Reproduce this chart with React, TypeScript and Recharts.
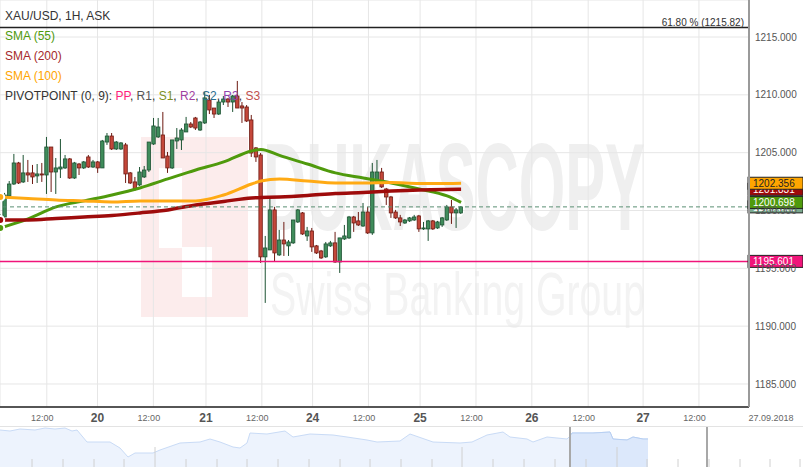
import React from 'react';
import {
  Area,
  AreaChart,
  Bar,
  CartesianGrid,
  ComposedChart,
  Line,
  ReferenceLine,
  XAxis,
  YAxis,
} from 'recharts';

// XAU/USD hourly candles, index 0 = first visible bar
const opens = [
  1198.66, 1199.44, 1201.26, 1202.29, 1204.11, 1202.47, 1203.25, 1203.25, 1202.99, 1203.16,
  1203.07, 1205.49, 1203.33, 1203.59, 1203.68, 1204.46, 1202.81, 1204.02, 1203.68, 1204.63,
  1203.76, 1204.2, 1203.68, 1205.92, 1206.44, 1205.32, 1205.32, 1205.67, 1203.25, 1202.47,
  1202.21, 1202.9, 1203.5, 1205.75, 1206.36, 1206.53, 1204.71, 1203.68, 1206.01, 1206.1,
  1206.79, 1207.48, 1208.0, 1206.96, 1207.57, 1209.55, 1208.86, 1208.34, 1209.38, 1209.64,
  1209.38, 1209.9, 1209.04, 1208.95, 1207.83, 1205.41, 1204.8, 1195.99, 1196.59, 1200.05,
  1196.16, 1197.45, 1196.94, 1197.2, 1199.01, 1199.79, 1197.8, 1198.23, 1196.94, 1196.5,
  1195.99, 1196.94, 1197.2, 1195.55, 1197.54, 1197.63, 1199.44, 1199.1, 1198.66, 1199.87,
  1198.06, 1202.47, 1203.33, 1201.86, 1201.17, 1199.87, 1199.36, 1198.92, 1199.1, 1199.18,
  1199.53, 1198.41, 1198.41, 1199.1, 1198.49, 1198.75, 1199.18, 1200.31, 1199.79, 1199.79,
];
const highs = [
  1199.7, 1201.52, 1202.55, 1204.89, 1204.2, 1204.8, 1204.37, 1203.94, 1204.02, 1204.11,
  1206.36, 1205.49, 1204.54, 1206.18, 1204.8, 1204.54, 1204.2, 1204.11, 1204.28, 1204.8,
  1204.37, 1204.28, 1206.1, 1206.7, 1206.7, 1206.01, 1205.92, 1205.84, 1203.33, 1202.9,
  1203.76, 1203.85, 1205.92, 1208.0, 1208.0, 1208.52, 1205.06, 1206.1, 1207.13, 1207.13,
  1208.09, 1207.65, 1208.09, 1207.74, 1210.25, 1209.99, 1208.86, 1209.55, 1209.9, 1209.73,
  1209.99, 1211.2, 1209.38, 1209.12, 1208.26, 1205.49, 1204.97, 1197.8, 1201.17, 1200.31,
  1198.32, 1199.01, 1197.45, 1199.18, 1200.13, 1199.87, 1198.58, 1198.49, 1197.02, 1196.59,
  1197.28, 1197.37, 1198.15, 1197.63, 1198.75, 1199.53, 1199.53, 1199.87, 1200.65, 1200.31,
  1204.11, 1204.37, 1203.68, 1201.95, 1201.26, 1200.05, 1199.62, 1199.27, 1199.44, 1199.62,
  1199.62, 1199.01, 1199.18, 1199.18, 1199.1, 1199.44, 1200.48, 1200.91, 1200.22, 1200.39,
];
const lows = [
  1198.49, 1199.36, 1201.17, 1202.21, 1202.29, 1202.38, 1202.47, 1202.29, 1202.38, 1202.47,
  1201.43, 1201.6, 1201.43, 1202.81, 1203.59, 1202.73, 1202.73, 1203.07, 1203.59, 1203.68,
  1203.68, 1203.25, 1203.68, 1205.67, 1205.23, 1205.23, 1205.23, 1202.38, 1202.29, 1201.69,
  1202.12, 1202.81, 1203.33, 1205.67, 1206.27, 1204.54, 1203.25, 1203.59, 1205.32, 1205.23,
  1206.79, 1207.13, 1206.96, 1206.88, 1207.48, 1208.34, 1208.0, 1208.26, 1209.12, 1208.95,
  1208.52, 1208.86, 1207.57, 1207.65, 1204.63, 1204.2, 1195.47, 1192.01, 1196.59, 1195.55,
  1196.07, 1196.07, 1196.07, 1197.11, 1198.92, 1197.89, 1197.37, 1196.42, 1196.24, 1195.81,
  1195.9, 1196.85, 1195.47, 1194.6, 1197.45, 1197.54, 1198.15, 1198.66, 1198.58, 1197.97,
  1197.89, 1202.38, 1201.95, 1200.48, 1199.36, 1199.27, 1198.66, 1198.84, 1199.01, 1199.1,
  1198.15, 1198.32, 1197.37, 1198.32, 1198.41, 1198.58, 1199.1, 1198.84, 1198.49, 1199.7,
];
const closes = [
  1199.44, 1201.34, 1202.29, 1204.11, 1202.38, 1203.25, 1203.07, 1202.9, 1203.16, 1203.07,
  1205.49, 1203.33, 1203.68, 1203.76, 1204.46, 1202.81, 1204.11, 1203.68, 1204.2, 1203.76,
  1204.2, 1203.68, 1206.01, 1206.44, 1205.32, 1205.92, 1205.84, 1203.16, 1202.38, 1201.86,
  1203.33, 1203.5, 1205.92, 1207.31, 1207.22, 1204.54, 1203.68, 1206.1, 1206.27, 1206.96,
  1207.48, 1207.22, 1207.13, 1207.65, 1209.73, 1208.69, 1208.34, 1209.38, 1209.64, 1209.38,
  1209.9, 1208.86, 1208.86, 1207.74, 1204.97, 1204.63, 1195.99, 1196.76, 1200.05, 1196.33,
  1197.45, 1197.11, 1197.28, 1199.18, 1200.05, 1197.97, 1198.23, 1196.85, 1196.33, 1195.9,
  1197.11, 1197.2, 1195.55, 1197.63, 1197.8, 1199.44, 1198.92, 1198.75, 1199.87, 1198.06,
  1203.33, 1203.33, 1202.04, 1201.17, 1199.79, 1199.36, 1199.01, 1199.18, 1199.36, 1199.44,
  1198.41, 1198.49, 1199.1, 1198.41, 1199.01, 1199.36, 1200.31, 1199.79, 1200.05, 1200.31,
];

// moving averages, read at these bar indexes
const smaIndex = [0, 6, 12, 18, 24, 30, 36, 42, 48, 54, 56, 60, 66, 72, 78, 84, 90, 96, 99];
const sma55 = [
  1198.49, 1199.27, 1200.31, 1200.83, 1201.34, 1201.95, 1202.73, 1203.5, 1204.2, 1205.15,
  1205.28, 1204.76, 1204.02, 1203.25, 1202.81, 1202.38, 1201.86, 1201.26, 1200.698,
];
const sma100 = [
  1201.17, 1201.04, 1200.91, 1200.83, 1200.74, 1200.83, 1200.83, 1200.83, 1201.34, 1202.29,
  1202.55, 1202.73, 1202.55, 1202.38, 1202.38, 1202.42, 1202.34, 1202.34, 1202.356,
];
const sma200 = [
  1199.18, 1199.18, 1199.31, 1199.44, 1199.57, 1199.79, 1200.05, 1200.48, 1200.78, 1201.09,
  1201.12, 1201.17, 1201.3, 1201.47, 1201.56, 1201.69, 1201.78, 1201.82, 1201.831,
];

const xTicks = [10, 20.9, 32.9, 44.2, 56.2, 67.1, 79.1, 90.2, 102.2, 114.2, 126.3, 138.1, 150.1];
const xTickLabels = ['12:00', '20', '12:00', '21', '12:00', '24', '12:00', '25', '12:00', '26', '12:00', '27', '12:00'];
const yTicks = [1185, 1190, 1195, 1200, 1205, 1210, 1215];

const fibLevel = 1215.82;
const pivotPP = 1195.601;
const askPrice = 1200.312;

// navigator strip (overview of the longer history)
const navTime = [
  0, 10, 20, 35, 45, 55, 65, 72, 77, 87, 110, 120, 128, 135, 153, 160, 180, 200, 210, 220,
  233, 240, 247, 250, 267, 285, 293, 310, 333, 347, 367, 377, 400, 410, 433, 460, 472, 487,
  503, 510, 527, 533, 547, 567, 570, 572, 593, 610, 613, 627, 633, 643, 648,
];
const navLevel = [
  37, 36, 38, 37, 39, 38, 39, 36, 37, 25, 25, 19, 10, 14, 14, 17, 24, 25, 28, 25,
  20, 19, 24, 34, 33, 36, 30, 33, 32, 30, 27, 25, 26, 33, 25, 24, 25, 32,
  35, 30, 28, 25, 30, 28, 31, 34, 34, 35, 28, 27, 30, 28, 28,
];
const navWindowStart = 570;
const navHandles = [570, 707];
const navTicks = [32, 63, 94, 124, 155, 186, 217, 247, 278, 309, 340, 370, 401, 432, 462, 493, 524, 555, 586, 617, 647, 678, 709, 740, 770, 800];
const navTallTicks = [155, 462, 617];

const candles = opens.map((open, i) => {
  const s = smaIndex.indexOf(i);
  return {
    k: i,
    open,
    high: highs[i],
    low: lows[i],
    close: closes[i],
    sma55: s >= 0 ? sma55[s] : null,
    sma100: s >= 0 ? sma100[s] : null,
    sma200: s >= 0 ? sma200[s] : null,
  };
});

const navData = navTime.map((t, i) => ({
  t,
  h: navLevel[i],
  sel: t >= navWindowStart ? navLevel[i] : null,
}));

const Candle = (props: any) => {
  const { x, y, width, height, payload } = props;
  if (!payload || x == null || y == null) return null;
  const top = Math.min(y, y + height);
  const bot = Math.max(y, y + height);
  const { open, close, high, low } = payload;
  const span = high - low;
  const py = (v: number) => (span === 0 ? top : top + ((high - v) / span) * (bot - top));
  const cx = x + width / 2;
  const up = close >= open;
  const bTop = py(Math.max(open, close));
  const bBot = py(Math.min(open, close));
  const dark = up ? '#1d5333' : '#6e1a12';
  return (
    <g>
      <line x1={cx} x2={cx} y1={top} y2={bot} stroke={dark} strokeWidth={1} />
      <rect
        x={cx - 1.7}
        y={bTop}
        width={3.4}
        height={Math.max(bBot - bTop, 1)}
        fill={up ? '#3f8c5b' : '#c4473a'}
        stroke={dark}
        strokeWidth={0.8}
      />
    </g>
  );
};

const XTick = (props: any) => {
  const { x, y, payload } = props;
  const label = xTickLabels[xTicks.indexOf(payload.value)];
  if (label === '12:00') {
    return (
      <text x={x - 4.5} y={y + 14} textAnchor="middle" fontSize={9} fill="#666">
        {label}
      </text>
    );
  }
  return (
    <text x={x} y={y + 15} textAnchor="middle" fontSize={12} fontWeight="bold" fill="#555">
      {label}
    </text>
  );
};

const priceBox = (value: number, fill: string, textFill: string) => (props: any) => {
  const vb = props.viewBox;
  if (!vb) return null;
  const left = vb.x + vb.width - 1;
  return (
    <g>
      <rect x={left} y={vb.y - 6} width={55} height={12} fill={fill} stroke="#222" strokeWidth={1} />
      <text x={left + 5} y={vb.y + 4} fontSize={10} fill={textFill}>
        {value.toFixed(3)}
      </text>
    </g>
  );
};

const fibLabel = (props: any) => {
  const vb = props.viewBox;
  if (!vb) return null;
  return (
    <text x={vb.x + vb.width - 5} y={vb.y - 2} textAnchor="end" fontSize={10} fill="#333">
      61.80 % ({fibLevel.toFixed(2)})
    </text>
  );
};

const pivotParts: [string, string][] = [
  ['PIVOTPOINT (0, 9): ', '#333'],
  ['PP', '#ff1f7c'],
  [', ', '#333'],
  ['R1', '#555'],
  [', ', '#333'],
  ['S1', '#7c8f1e'],
  [', ', '#333'],
  ['R2', '#a040a0'],
  [', ', '#333'],
  ['S2', '#2b6e8f'],
  [', ', '#333'],
  ['R3', '#8e44ad'],
  [', ', '#333'],
  ['S3', '#c0504d'],
];

export default function App() {
  const last = candles.length - 1;
  return (
    <div
      style={{
        position: 'absolute',
        left: 0,
        top: 0,
        width: 803,
        height: 467,
        background: '#fff',
        overflow: 'hidden',
        fontFamily: '"Liberation Sans", Arial, sans-serif',
      }}
    >
      {/* watermark */}
      <svg width={803} height={425} style={{ position: 'absolute', left: 0, top: 0 }}>
        <rect x={141} y={137} width={107} height={180} fill="#fcecec" />
        <rect x={159} y={168} width={23} height={80} fill="#ffffff" />
        <rect x={182} y={247} width={30} height={50} fill="#ffffff" />
        <text x={263} y={230} fontSize={125} fontWeight="bold" fill="#efefef" textLength={382} lengthAdjust="spacingAndGlyphs">
          DUKASCOPY
        </text>
        <text x={270} y={315} fontSize={62} fill="#f3f3f3" textLength={375} lengthAdjust="spacingAndGlyphs">
          Swiss Banking Group
        </text>
      </svg>

      <div style={{ position: 'absolute', left: 0, top: 0 }}>
        <ComposedChart width={803} height={425} data={candles} margin={{ top: 0, right: 0, bottom: 0, left: 0 }}>
          <CartesianGrid stroke="#e6e6e6" />
          <XAxis
            type="number"
            dataKey="k"
            domain={[-0.05, 160.85]}
            allowDataOverflow
            ticks={xTicks}
            interval={0}
            height={18}
            tickLine={false}
            tickSize={0}
            tickMargin={0}
            axisLine={{ stroke: '#222', strokeWidth: 1.5 }}
            tick={<XTick />}
          />
          <YAxis
            orientation="right"
            type="number"
            domain={[1183.01, 1218.2]}
            allowDataOverflow
            ticks={yTicks}
            interval={0}
            width={54}
            tickLine={false}
            tickSize={4}
            tickMargin={2}
            axisLine={{ stroke: '#9a9a9a', strokeWidth: 2 }}
            tick={{ fill: '#555', fontSize: 10, textAnchor: 'start' }}
            tickFormatter={(v: number) => v.toFixed(3)}
          />
          <Bar
            dataKey={(d: any) => [d.low, d.high]}
            barSize={4}
            shape={(p: any) => <Candle {...p} />}
            isAnimationActive={false}
          />
          <Line dataKey="sma55" type="monotone" connectNulls dot={false} stroke="#4f9a0c" strokeWidth={3} isAnimationActive={false} />
          <Line dataKey="sma200" type="monotone" connectNulls dot={false} stroke="#9e0b0b" strokeWidth={3.5} isAnimationActive={false} />
          <Line dataKey="sma100" type="monotone" connectNulls dot={false} stroke="#ffaa14" strokeWidth={3} isAnimationActive={false} />
          <ReferenceLine y={fibLevel} stroke="#222" strokeWidth={1.5} label={fibLabel} />
          <ReferenceLine y={pivotPP} stroke="#f0147a" strokeWidth={1.5} label={priceBox(pivotPP, '#f0147a', '#fff')} />
          <ReferenceLine y={askPrice} stroke="#5b8f74" strokeDasharray="4 3" label={priceBox(askPrice, '#7aa88d', '#fff')} />
          <ReferenceLine y={candles[last].sma200 as number} stroke="none" label={priceBox(sma200[sma200.length - 1], '#9e0b0b', '#fff')} />
          <ReferenceLine y={candles[last].sma100 as number} stroke="none" label={priceBox(sma100[sma100.length - 1], '#ffa500', '#222')} />
          <ReferenceLine y={candles[last].sma55 as number} stroke="none" label={priceBox(sma55[sma55.length - 1], '#4f9a0c', '#fff')} />
        </ComposedChart>
      </div>

      {/* legend and header texts */}
      <svg width={803} height={425} style={{ position: 'absolute', left: 0, top: 0, pointerEvents: 'none' }}>
        <text x={5} y={20} fontSize={12} fill="#333">XAU/USD, 1H, ASK</text>
        <text x={5} y={40} fontSize={12} fill="#4f9a0c">SMA (55)</text>
        <text x={5} y={60} fontSize={12} fill="#a52a2a">SMA (200)</text>
        <text x={5} y={80} fontSize={12} fill="#ffa500">SMA (100)</text>
        <text x={5} y={100} fontSize={12} xmlSpace="preserve">
          {pivotParts.map(([t, c], i) => (
            <tspan key={i} fill={c}>{t}</tspan>
          ))}
        </text>
        <text x={771} y={421} fontSize={9} fill="#666" textAnchor="middle">27.09.2018</text>
      </svg>

      {/* navigator */}
      <div style={{ position: 'absolute', left: 0, top: 426, width: 803, height: 41, borderTop: '1px solid #e3e3e3' }}>
        <AreaChart width={803} height={40} data={navData} margin={{ top: 0, right: 0, bottom: 0, left: 0 }}>
          <XAxis type="number" dataKey="t" domain={[0, 803]} hide />
          <YAxis type="number" domain={[0, 40]} hide />
          {navTicks.map((t) => (
            <ReferenceLine
              key={t}
              segment={[{ x: t, y: 0 }, { x: t, y: navTallTicks.includes(t) ? 20 : 8 }]}
              stroke="#d0d0d0"
            />
          ))}
          <Area dataKey="h" type="linear" fill="#edf3fd" fillOpacity={1} stroke="#c9dbf6" strokeWidth={1} isAnimationActive={false} />
          <Area dataKey="sel" type="linear" fill="#dce8fb" fillOpacity={1} stroke="#b7cff2" strokeWidth={1} isAnimationActive={false} />
          {navHandles.map((t) => (
            <ReferenceLine key={`h${t}`} x={t} stroke="#a8a8a8" strokeWidth={2} />
          ))}
        </AreaChart>
      </div>
    </div>
  );
}
